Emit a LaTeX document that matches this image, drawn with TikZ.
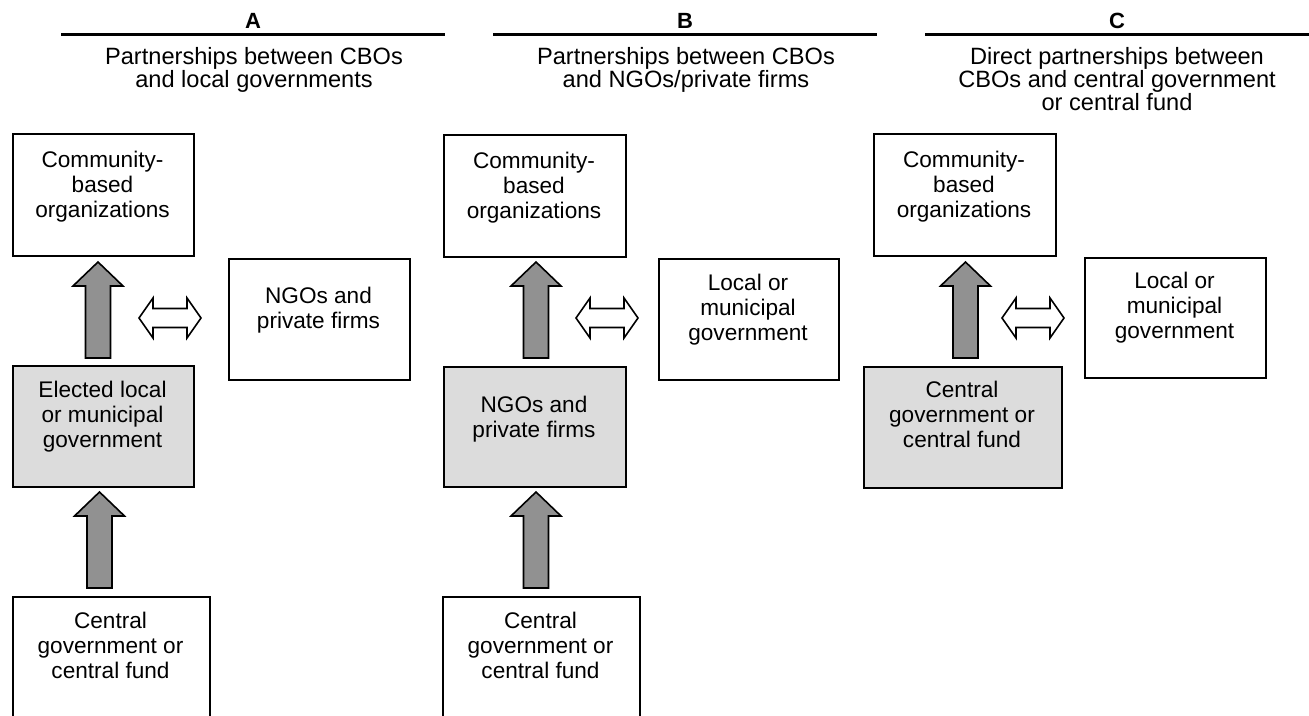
\documentclass[tikz,border=0pt]{standalone}
\usepackage{fontspec}
\setmainfont{Liberation Sans}
\definecolor{boxgray}{RGB}{220,220,220}
\definecolor{arrgray}{RGB}{145,145,145}
\tikzset{
  box/.style={draw=black, line width=1.7pt, fill=white, anchor=north west, inner sep=0pt},
  graybox/.style={box, fill=boxgray},
  txt/.style={font=\fontsize{22.6}{25.3}\selectfont, align=center, inner sep=0pt, anchor=north, yshift=3pt},
  subtitle/.style={font=\fontsize{23.6}{22.8}\selectfont, align=center, inner sep=0pt, anchor=north},
  letter/.style={font=\bfseries\fontsize{22}{22}\selectfont, inner sep=0pt, anchor=base},
  rulestyle/.style={line width=3.8pt},
  upshape/.style={draw=black, fill=arrgray, line width=1.6pt, line join=miter},
  dblshape/.style={draw=black, fill=white, line width=1.6pt, line join=miter},
  uparrow/.pic={\draw[upshape] (-12.5,0) -- (-12.5,-72) -- (-25,-72) -- (0,-96) -- (25,-72) -- (12.5,-72) -- (12.5,0) -- cycle;},
  dblarrow/.pic={\draw[dblshape] (-31,0) -- (-17,-20) -- (-17,-9.5) -- (17,-9.5) -- (17,-20) -- (31,0) -- (17,20) -- (17,9.5) -- (-17,9.5) -- (-17,20) -- cycle;}
}
\begin{document}
\begin{tikzpicture}[x=1pt, y=-1pt]
\useasboundingbox[fill=white] (0,0) rectangle (1309,715);

% headers
\draw[rulestyle] (61,34.5) -- (445,34.5);
\draw[rulestyle] (493,34.5) -- (877,34.5);
\draw[rulestyle] (925,34.5) -- (1309,34.5);
\node[letter] (hA) at (253,28) {A};
\node[letter] (hB) at (685,28) {B};
\node[letter] (hC) at (1117,28) {C};
\node[subtitle] (sA) at (254,47.5) {Partnerships between CBOs\\and local governments};
\node[subtitle] (sB) at (686,47.5) {Partnerships between CBOs\\and NGOs/private firms};
\node[subtitle] (sC) at (1117,47.5) {Direct partnerships between\\CBOs and central government\\or central fund};

% Panel A
\node[box, minimum width=181, minimum height=122] (cboA) at (12,133) {};
\node[txt] (cboAt) at (102.5,153.5) {Community-\\based\\organizations};
\node[box, minimum width=181, minimum height=121] (ngoA) at (228,258) {};
\node[txt] (ngoAt) at (318.5,289.5) {NGOs and\\private firms};
\node[graybox, minimum width=181, minimum height=121] (elecA) at (12,365) {};
\node[txt] (elecAt) at (102.5,383.5) {Elected local\\or municipal\\government};
\pic at (98,358) {uparrow};
\pic at (99.5,588) {uparrow};
\pic at (170,318) {dblarrow};

% Panel B
\node[box, minimum width=182, minimum height=122] (cboB) at (443,134) {};
\node[txt] (cboBt) at (534,154.5) {Community-\\based\\organizations};
\node[box, minimum width=180, minimum height=121] (locB) at (658,258) {};
\node[txt] (locBt) at (748,276.5) {Local or\\municipal\\government};
\node[graybox, minimum width=182, minimum height=120] (ngoB) at (443,366) {};
\node[txt] (ngoBt) at (534,398.5) {NGOs and\\private firms};
\pic at (536,358) {uparrow};
\pic at (536,588) {uparrow};
\pic at (607,318) {dblarrow};

% Panel C
\node[box, minimum width=182, minimum height=122] (cboC) at (873,133) {};
\node[txt] (cboCt) at (964,153.5) {Community-\\based\\organizations};
\node[box, minimum width=181, minimum height=120] (locC) at (1084,257) {};
\node[txt] (locCt) at (1174.5,274.5) {Local or\\municipal\\government};
\node[graybox, minimum width=198, minimum height=121] (cenC) at (863,366) {};
\node[txt] (cenCt) at (962,383.5) {Central\\government or\\central fund};
\pic at (965.5,358) {uparrow};
\pic at (1033,318) {dblarrow};

% bottom boxes, cut by the picture edge
\begin{scope}
\clip (0,0) rectangle (1309,715);
\node[box, minimum width=197, minimum height=150] (cenA) at (12,596) {};
\node[txt] (cenAt) at (110.5,614.5) {Central\\government or\\central fund};
\node[box, minimum width=197, minimum height=150] (cenB) at (442,596) {};
\node[txt] (cenBt) at (540.5,614.5) {Central\\government or\\central fund};
\end{scope}
\end{tikzpicture}
\end{document}
